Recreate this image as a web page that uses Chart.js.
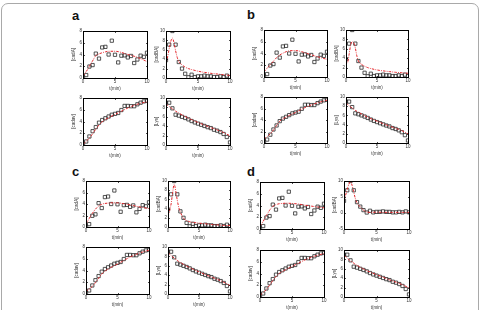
<!DOCTYPE html>
<html>
<head>
<meta charset="utf-8">
<script src="https://cdn.jsdelivr.net/npm/chart.js@4.4.1/dist/chart.umd.min.js"></script>
<style>
body { margin:0; background:#fff; width:481px; height:310px; overflow:hidden; position:relative; font-family:"Liberation Sans", Arial, sans-serif; }
#frame { position:absolute; left:1px; top:3px; width:476px; height:330px; border:1.5px solid #a9a9a9; border-radius:7px; }
.lbl { position:absolute; font-weight:bold; font-size:13px; line-height:13px; color:#111; }
canvas { position:absolute; }
</style>
</head>
<body>
<div id="frame"></div>
<div class="lbl" style="left:72px;top:9px">a</div>
<div class="lbl" style="left:247px;top:8px">b</div>
<div class="lbl" style="left:72px;top:165px">c</div>
<div class="lbl" style="left:247px;top:165px">d</div>
<script>
// measured data (same in every panel)
var tObs = [0, 0.5, 1, 1.5, 2, 2.5, 3, 3.5, 4, 4.5, 5, 5.5, 6, 6.5, 7, 7.5, 8, 8.5, 9, 9.5, 10];
var obsCadA = [0.1, 0.5, 1.95, 2.2, 4.15, 3.3, 5.2, 5.3, 4.0, 6.35, 3.95, 2.65, 3.8, 3.85, 3.5, 3.75, 2.55, 3.15, 3.8, 3.6, 4.3];
var obsCadBA = [3.8, 7.1, 10, 7.1, 3.4, 2.0, 0.9, 0.15, 0.7, 0.2, 0.35, 0.35, 0.5, 0.35, 0.35, 0.2, 0.2, 0.35, 0.2, 0.5, 0.2];
var obsCadav = [0.25, 0.6, 1.45, 2.35, 3.05, 3.8, 4.25, 4.55, 4.85, 5.15, 5.3, 5.45, 5.95, 6.65, 6.65, 6.6, 6.6, 6.93, 7.2, 7.42, 7.5];
var obsLys = [9.0, 9.0, 7.8, 6.45, 6.25, 6.0, 5.75, 5.45, 5.1, 4.8, 4.55, 4.3, 4.05, 3.8, 3.6, 3.25, 3.05, 2.75, 2.35, 1.7, 0.55];

// model curves
var tFit = [0, 0.25, 0.5, 0.75, 1, 1.25, 1.5, 1.75, 2, 2.5, 3, 3.5, 4, 5, 6, 7, 8, 9, 10];

var aFitCadA = [0.3, 0.7, 1.1, 1.5, 2.0, 2.5, 2.9, 3.4, 3.8, 4.1, 4.3, 4.45, 4.55, 4.55, 4.35, 4.0, 3.7, 3.3, 2.8];
var aFitCadBA = [3.0, 4.5, 6.2, 7.8, 8.5, 7.5, 5.8, 4.4, 3.5, 2.8, 2.3, 2.0, 1.8, 1.45, 1.2, 1.0, 0.85, 0.7, 0.55];
var aFitCadav = [0.1, 0.35, 0.6, 0.9, 1.2, 1.55, 1.9, 2.3, 2.7, 3.4, 3.95, 4.35, 4.65, 5.2, 5.75, 6.3, 6.75, 7.1, 7.35];
var aFitLys = [8.7, 8.45, 8.2, 7.95, 7.7, 7.45, 7.2, 7.0, 6.8, 6.4, 6.05, 5.7, 5.4, 4.8, 4.25, 3.7, 3.2, 2.65, 1.95];

var bFitCadA = [0.9, 1.2, 1.5, 1.8, 2.1, 2.4, 2.7, 3.0, 3.3, 3.75, 4.05, 4.3, 4.45, 4.5, 4.3, 3.95, 3.6, 3.3, 3.0];
var bFitCadBA = [3.8, 3.0, 4.8, 6.8, 7.5, 7.3, 6.2, 4.5, 3.4, 2.7, 2.3, 2.0, 1.8, 1.5, 1.3, 1.15, 1.0, 0.9, 0.8];
var bFitCadav = [0.7, 0.9, 1.1, 1.35, 1.6, 1.9, 2.25, 2.65, 3.05, 3.8, 4.2, 4.5, 4.8, 5.3, 5.9, 6.4, 6.8, 7.15, 7.45];
var bFitLys = [8.7, 8.4, 8.1, 7.85, 7.6, 7.35, 7.1, 6.9, 6.7, 6.3, 5.95, 5.6, 5.3, 4.75, 4.2, 3.7, 3.2, 2.7, 2.0];

var cFitCadA = [0.6, 1.0, 1.45, 1.9, 2.35, 2.75, 3.1, 3.4, 3.65, 3.95, 4.1, 4.15, 4.2, 4.2, 4.05, 3.85, 3.6, 3.4, 3.2];
var cFitCadBA = [2.3, 3.5, 5.0, 7.5, 9.3, 7.8, 5.8, 4.2, 3.2, 1.9, 1.4, 1.15, 1.0, 0.85, 0.7, 0.55, 0.45, 0.35, 0.3];
var cFitCadav = [0.5, 0.65, 0.85, 1.05, 1.3, 1.6, 1.95, 2.3, 2.7, 3.4, 3.9, 4.25, 4.55, 5.1, 5.7, 6.3, 6.75, 7.15, 7.45];
var cFitLys = [8.8, 8.5, 8.2, 7.9, 7.65, 7.4, 7.15, 6.9, 6.7, 6.3, 5.95, 5.6, 5.3, 4.7, 4.15, 3.6, 3.1, 2.5, 1.8];

var dFitCadA = [0.5, 0.9, 1.3, 1.8, 2.3, 2.75, 3.2, 3.55, 3.85, 4.15, 4.3, 4.35, 4.4, 4.35, 4.25, 4.05, 3.9, 3.75, 3.6];
var dFitCadBA = [3.8, 5.6, 7.4, 9.0, 9.8, 8.6, 6.5, 4.5, 3.2, 1.9, 0.9, 0.3, 0.2, 0.25, 0.2, 0.2, 0.2, 0.2, 0.2];
var dFitCadav = [0.3, 0.5, 0.75, 1.0, 1.3, 1.65, 2.0, 2.4, 2.8, 3.5, 4.0, 4.35, 4.65, 5.2, 5.75, 6.3, 6.75, 7.1, 7.4];
var dFitLys = [8.9, 8.55, 8.25, 7.95, 7.7, 7.45, 7.2, 6.95, 6.75, 6.35, 5.95, 5.6, 5.3, 4.75, 4.2, 3.65, 3.15, 2.6, 1.95];

var L = 12, T = 6, R = 6, B = 13;

// black box around the plot with inward ticks
var boxPlugin = {
    id: 'box',
    afterDraw: function (chart) {
        var ctx = chart.ctx, a = chart.chartArea;
        var l = Math.round(a.left) + 0.5, t = Math.round(a.top) + 0.5;
        var r = Math.round(a.right) + 0.5, b = Math.round(a.bottom) + 0.5;
        ctx.save();
        ctx.strokeStyle = '#000';
        ctx.lineWidth = 1;
        ctx.strokeRect(l, t, r - l, b - t);
        ctx.lineWidth = 0.7;
        ctx.beginPath();
        chart.scales.x.ticks.forEach(function (tk) {
            var px = Math.round(chart.scales.x.getPixelForValue(tk.value)) + 0.5;
            ctx.moveTo(px, b); ctx.lineTo(px, b - 1.5);
            ctx.moveTo(px, t); ctx.lineTo(px, t + 1.5);
        });
        chart.scales.y.ticks.forEach(function (tk) {
            var py = Math.round(chart.scales.y.getPixelForValue(tk.value)) + 0.5;
            ctx.moveTo(l, py); ctx.lineTo(l + 1.5, py);
            ctx.moveTo(r, py); ctx.lineTo(r - 1.5, py);
        });
        ctx.stroke();
        ctx.restore();
    }
};

function pairs(xs, ys) {
    return xs.map(function (x, i) { return { x: x, y: ys[i] }; });
}

function makePlot(x0, y0, x1, y1, yLabel, yMin, yMax, yStep, obs, fit) {
    var c = document.createElement('canvas');
    c.width = (x1 - x0) + L + R;
    c.height = (y1 - y0) + T + B;
    c.style.left = (x0 - L) + 'px';
    c.style.top = (y0 - T) + 'px';
    document.body.appendChild(c);
    new Chart(c, {
        type: 'scatter',
        data: {
            datasets: [{
                data: pairs(tObs, obs),
                pointStyle: 'rect',
                pointRadius: 2.3,
                borderWidth: 0.8,
                borderColor: '#2a2a2a',
                backgroundColor: 'rgba(0,0,0,0)',
                order: 2
            }, {
                data: pairs(tFit, fit),
                showLine: true,
                pointRadius: 0,
                borderColor: '#e3262b',
                borderWidth: 1,
                borderDash: [2.5, 1.2, 0.8, 1.2],
                cubicInterpolationMode: 'monotone',
                order: 1
            }]
        },
        options: {
            animation: false,
            responsive: false,
            devicePixelRatio: 1,
            layout: { padding: { top: T, right: R, left: 0, bottom: 0 } },
            plugins: { legend: { display: false }, tooltip: { enabled: false } },
            scales: {
                x: {
                    type: 'linear', min: 0, max: 10,
                    ticks: { stepSize: 5, font: { size: 4.5 }, color: '#333', padding: 1, maxRotation: 0 },
                    grid: { display: false, drawTicks: false },
                    border: { display: false },
                    title: { display: true, text: 't(min)', font: { size: 4.5 }, color: '#333', padding: 0 },
                    afterFit: function (s) { s.height = B; }
                },
                y: {
                    min: yMin, max: yMax,
                    ticks: { stepSize: yStep, font: { size: 4.5 }, color: '#333', padding: 1 },
                    grid: { display: false, drawTicks: false },
                    border: { display: false },
                    title: { display: true, text: yLabel, font: { size: 4.5 }, color: '#333', padding: 0 },
                    afterFit: function (s) { s.width = L; }
                }
            }
        },
        plugins: [boxPlugin]
    });
}

// panel a
makePlot(83, 31, 147, 78, '[cadA]', 0, 8, 2, obsCadA, aFitCadA);
makePlot(166, 31, 230, 78, '[cadBA]', 0, 10, 2, obsCadBA, aFitCadBA);
makePlot(83, 98, 147, 145, '[cadav]', 0, 8, 2, obsCadav, aFitCadav);
makePlot(166, 98, 230, 145, '[Lys]', 0, 10, 2, obsLys, aFitLys);
// panel b
makePlot(264, 30, 327, 77, '[cadA]', 0, 8, 2, obsCadA, bFitCadA);
makePlot(346, 30, 408, 77, '[cadBA]', 0, 10, 2, obsCadBA, bFitCadBA);
makePlot(264, 97, 327, 143, '[cadav]', 0, 8, 2, obsCadav, bFitCadav);
makePlot(346, 97, 408, 143, '[Lys]', 0, 10, 2, obsLys, bFitLys);
// panel c
makePlot(86, 181, 149, 227, '[cadA]', 0, 8, 2, obsCadA, cFitCadA);
makePlot(168, 181, 230, 227, '[cadBA]', 0, 10, 2, obsCadBA, cFitCadBA);
makePlot(86, 247, 149, 294, '[cadav]', 0, 8, 2, obsCadav, cFitCadav);
makePlot(168, 247, 230, 294, '[Lys]', 0, 10, 2, obsLys, cFitLys);
// panel d
makePlot(260, 182, 324, 229, '[cadA]', 0, 8, 2, obsCadA, dFitCadA);
makePlot(344, 181, 409, 229, '[cadBA]', -5, 10, 5, obsCadBA, dFitCadBA);
makePlot(260, 250, 324, 297, '[cadav]', 0, 8, 2, obsCadav, dFitCadav);
makePlot(344, 250, 409, 297, '[Lys]', 0, 10, 2, obsLys, dFitLys);
</script>
</body>
</html>
